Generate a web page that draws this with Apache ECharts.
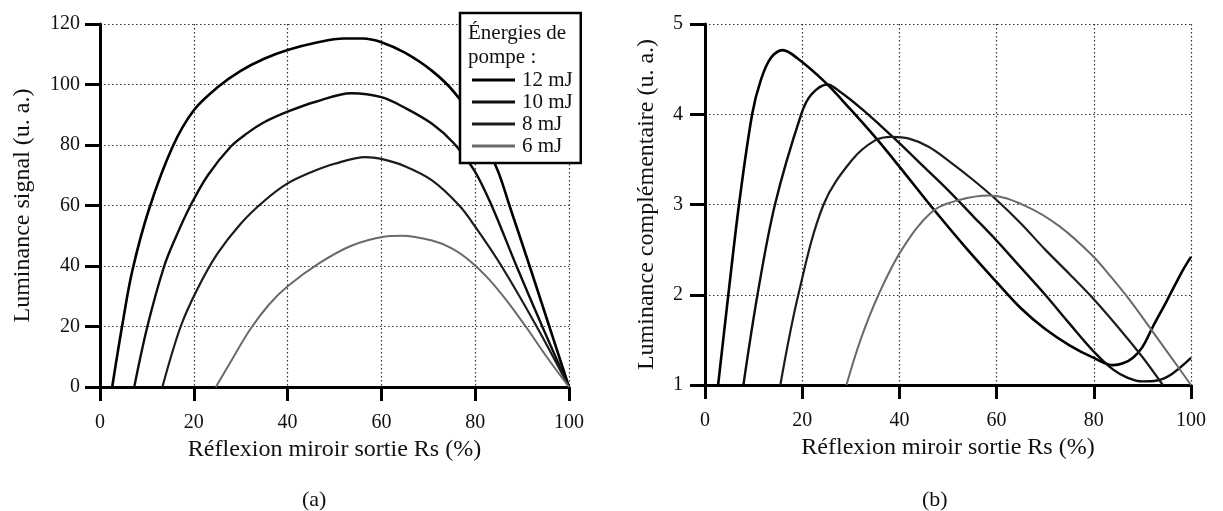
<!DOCTYPE html>
<html>
<head>
<meta charset="utf-8">
<script src="https://cdn.jsdelivr.net/npm/echarts@6/dist/echarts.min.js"></script>
<style>
html,body{margin:0;padding:0;background:#fff;}
#main{width:1223px;height:511px;}
</style>
</head>
<body>
<div id="main"></div>
<script>
// ---- Data ----
const seriesNames = ['12 mJ', '10 mJ', '8 mJ', '6 mJ'];

// (a) Luminance signal vs Rs (%)
const sig12 = [[2.6,0],[4.7,20],[6.9,38.5],[10.5,59],[15.5,79.5],[20,91.5],[25,99],[30,104.5],[35,108.5],[40,111.4],[46,113.8],[52,115.2],[56,115.2],[60,114],[65,110.5],[70.8,104.5],[75.5,97.5],[80,87.5],[84.8,71.6],[87.3,60],[91.6,40],[95.8,20],[100,0]];
const sig10 = [[7.3,0],[10.1,20],[13.7,40],[16.3,50],[19.3,60],[23,70],[27.9,79.5],[31.5,84],[35,87.5],[40,91],[46,94.3],[53.6,97.1],[60,95.8],[65,92.3],[70.8,87],[75.5,80.5],[79.8,71.6],[83.5,60],[88.8,40],[94.3,20],[100,0]];
const sig8  = [[13.3,0],[17.2,20],[20.8,32.5],[25,44],[30,54],[35,61.5],[40,67.3],[45,71],[50,73.8],[56.6,76],[60,75.4],[65,73],[70.8,68.3],[76.6,60],[80,53],[85.6,40],[93.1,20],[100,0]];
const sig6  = [[24.7,0],[28,8.7],[32,19],[36,27.2],[40,33.3],[46.6,40.8],[53.6,46.7],[60.5,49.7],[64.4,50],[70.8,48.4],[75,45.8],[79,41.5],[83,35.5],[87,28],[91,19.5],[95,10.5],[100,0]];

// (b) Luminance complementaire vs Rs (%)
const comp12 = [[2.7,1],[4.8,2],[7.0,3],[9.7,4],[11.5,4.38],[13.5,4.62],[16,4.71],[19,4.62],[24.8,4.35],[30,4.05],[35.1,3.74],[40,3.42],[46.7,2.97],[53.7,2.52],[60,2.14],[65,1.85],[70,1.62],[75,1.44],[80,1.3],[84,1.22],[86,1.24],[88,1.3],[90,1.42],[92.1,1.64],[95,1.93],[98.3,2.27],[100,2.42]];
const comp10 = [[7.9,1],[10.8,2],[14.4,3],[19.8,4],[21.9,4.22],[25.2,4.33],[28,4.24],[32,4.07],[36,3.88],[40,3.68],[45,3.42],[50,3.16],[55,2.88],[60,2.6],[65,2.3],[70,2.0],[75,1.68],[80,1.37],[84,1.17],[87,1.08],[90,1.04],[93,1.05],[96,1.12],[100,1.3]];
const comp8  = [[15.5,1],[19.2,2],[24.4,3],[30.2,3.49],[35,3.71],[38.4,3.75],[42,3.73],[46,3.64],[50,3.49],[55,3.28],[60,3.05],[65,2.79],[70,2.5],[75,2.23],[80,1.95],[85,1.64],[90,1.31],[94.2,1.0]];
const comp6  = [[29.1,1],[32,1.5],[35.7,2.0],[40.5,2.5],[46.7,2.92],[52.3,3.05],[58.5,3.1],[66.1,2.98],[72.9,2.76],[79.8,2.43],[83.5,2.2],[87.4,1.94],[92,1.6],[96,1.3],[100,1.0]];

// ---- Styles ----
const FONT = '"Liberation Serif", "DejaVu Serif", serif';
const lineColors = ['#000000', '#0d0d0d', '#1c1c1c', '#6a6a6a'];
const lineWidths = [2.6, 2.4, 2.2, 2.0];

const chart = echarts.init(document.getElementById('main'), null, {renderer: 'canvas'});

function xAxisCfg(gridIndex) {
  return {
    type: 'value', gridIndex: gridIndex, min: 0, max: 100, interval: 20,
    name: 'Réflexion miroir sortie Rs (%)', nameLocation: 'middle', nameGap: 50,
    nameTextStyle: {fontFamily: FONT, fontSize: 24, color: '#111'},
    axisLine: {show: true, onZero: false, lineStyle: {color: '#000', width: 3}},
    axisTick: {show: true, inside: false, length: 14, lineStyle: {color: '#000', width: 3}},
    axisLabel: {fontFamily: FONT, fontSize: 20, color: '#111', margin: 26},
    splitLine: {show: true, lineStyle: {color: '#333', width: 1.2, type: [1.5, 2.5]}}
  };
}
function yAxisCfg(gridIndex, min, max, interval, name, nameGap, margin) {
  return {
    type: 'value', gridIndex: gridIndex, min: min, max: max, interval: interval,
    name: name, nameLocation: 'middle', nameGap: nameGap,
    nameTextStyle: {fontFamily: FONT, fontSize: 24, color: '#111'},
    axisLine: {show: true, onZero: false, lineStyle: {color: '#000', width: 3}},
    axisTick: {show: true, inside: false, length: 15, lineStyle: {color: '#000', width: 3}},
    axisLabel: {fontFamily: FONT, fontSize: 20, color: '#111', margin: margin},
    splitLine: {show: true, lineStyle: {color: '#333', width: 1.2, type: [1.5, 2.5]}}
  };
}
function lineSeries(name, data, idx, xi, yi) {
  return {
    type: 'line', name: name, data: data, xAxisIndex: xi, yAxisIndex: yi,
    smooth: 0.35, symbol: 'none', clip: true, z: 2,
    lineStyle: {color: lineColors[idx], width: lineWidths[idx]},
    itemStyle: {color: lineColors[idx]}
  };
}

const option = {
  backgroundColor: '#ffffff',
  animation: false,
  title: [
    {text: 'Énergies de\npompe :', left: 463, top: 16, z: 10,
     textStyle: {fontFamily: FONT, fontSize: 21, fontWeight: 'normal', color: '#111', lineHeight: 24}},
    {text: '(a)', left: 297, top: 484,
     textStyle: {fontFamily: FONT, fontSize: 22, fontWeight: 'normal', color: '#111'}},
    {text: '(b)', left: 917, top: 484,
     textStyle: {fontFamily: FONT, fontSize: 22, fontWeight: 'normal', color: '#111'}}
  ],
  legend: {
    show: true, orient: 'vertical', left: 460, top: 13,
    data: seriesNames,
    icon: 'rect', itemWidth: 43, itemHeight: 3, itemGap: 0,
    padding: [56, 8, 6, 12],
    backgroundColor: '#ffffff', borderColor: '#000', borderWidth: 2.5,
    textStyle: {fontFamily: FONT, fontSize: 21, color: '#111', lineHeight: 22, padding: [0, 0, 0, 2]},
    selectedMode: false, z: 8
  },
  grid: [
    {left: 100, right: 654, top: 24, bottom: 124},
    {left: 705, right: 32, top: 24, bottom: 126}
  ],
  xAxis: [xAxisCfg(0), xAxisCfg(1)],
  yAxis: [
    yAxisCfg(0, 0, 120, 20, 'Luminance signal (u. a.)', 65, 20),
    yAxisCfg(1, 1, 5, 1, 'Luminance complémentaire (u. a.)', 46, 22)
  ],
  series: [
    lineSeries('12 mJ', sig12, 0, 0, 0),
    lineSeries('10 mJ', sig10, 1, 0, 0),
    lineSeries('8 mJ', sig8, 2, 0, 0),
    lineSeries('6 mJ', sig6, 3, 0, 0),
    lineSeries('12 mJ', comp12, 0, 1, 1),
    lineSeries('10 mJ', comp10, 1, 1, 1),
    lineSeries('8 mJ', comp8, 2, 1, 1),
    lineSeries('6 mJ', comp6, 3, 1, 1)
  ]
};
chart.setOption(option);
</script>
</body>
</html>
